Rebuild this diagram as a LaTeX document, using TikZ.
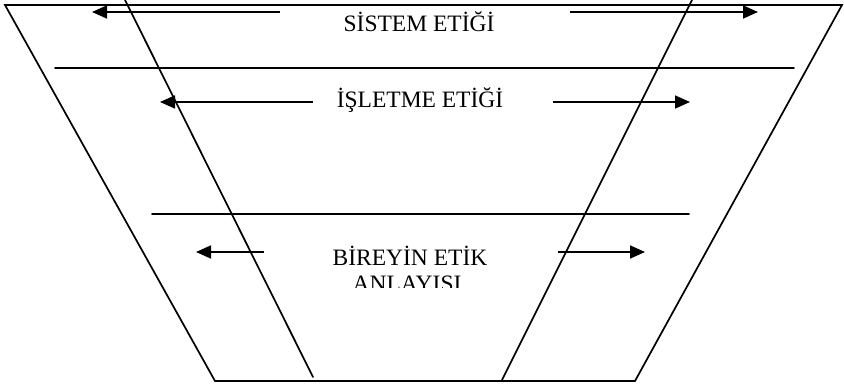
\documentclass[tikz,border=0pt]{standalone}
\usepackage{fontspec}
\setmainfont{Liberation Serif}
\usetikzlibrary{arrows.meta}
\begin{document}
\begin{tikzpicture}[x=1pt,y=-1pt,
  edge/.style={line width=1.7pt,line cap=round},
  flow/.style={line width=1.7pt,-{Triangle[length=15pt,width=13pt]}},
  label/.style={inner sep=0pt,anchor=base,font=\fontsize{23.5}{26}\selectfont}]
\useasboundingbox (0,0) rectangle (844,387);
% outer trapezoid
\coordinate (tl) at (5,5);
\coordinate (tr) at (842,5);
\coordinate (br) at (635,381);
\coordinate (bl) at (215,381);
\draw[edge,line join=miter] (tl) -- (tr) -- (br) -- (bl) -- cycle;
% inner slanted lines
\coordinate (lit) at (125,0);
\coordinate (lib) at (313,377);
\coordinate (rit) at (692,0);
\coordinate (rib) at (502,380);
\draw[edge] (lit) -- (lib);
\draw[edge] (rit) -- (rib);
% horizontal separators
\coordinate (h2a) at (55,68);
\coordinate (h2b) at (794,68);
\coordinate (h3a) at (152,214);
\coordinate (h3b) at (689,214);
\draw[edge] (h2a) -- (h2b);
\draw[edge] (h3a) -- (h3b);
% labels
\node[label] (sis) at (419,32) {SİSTEM ETİĞİ};
\node[label] (isl) at (420,108) {İŞLETME ETİĞİ};
\node[label] (bir) at (410,266) {BİREYİN ETİK};
\begin{scope}
  \clip (300,268) rectangle (520,288);
  \node[label] (anl) at (407,292) {ANLAYIŞI};
\end{scope}
% arrows
\coordinate (a1lt) at (280,12);  \coordinate (a1lh) at (92,12);
\coordinate (a1rt) at (570,12);  \coordinate (a1rh) at (758,12);
\coordinate (a2lt) at (313,102); \coordinate (a2lh) at (160,102);
\coordinate (a2rt) at (553,102); \coordinate (a2rh) at (690,102);
\coordinate (a3lt) at (264,252); \coordinate (a3lh) at (196,252);
\coordinate (a3rt) at (558,252); \coordinate (a3rh) at (645,252);
\draw[flow] (a1lt) -- (a1lh);
\draw[flow] (a1rt) -- (a1rh);
\draw[flow] (a2lt) -- (a2lh);
\draw[flow] (a2rt) -- (a2rh);
\draw[flow] (a3lt) -- (a3lh);
\draw[flow] (a3rt) -- (a3rh);
\end{tikzpicture}
\end{document}
